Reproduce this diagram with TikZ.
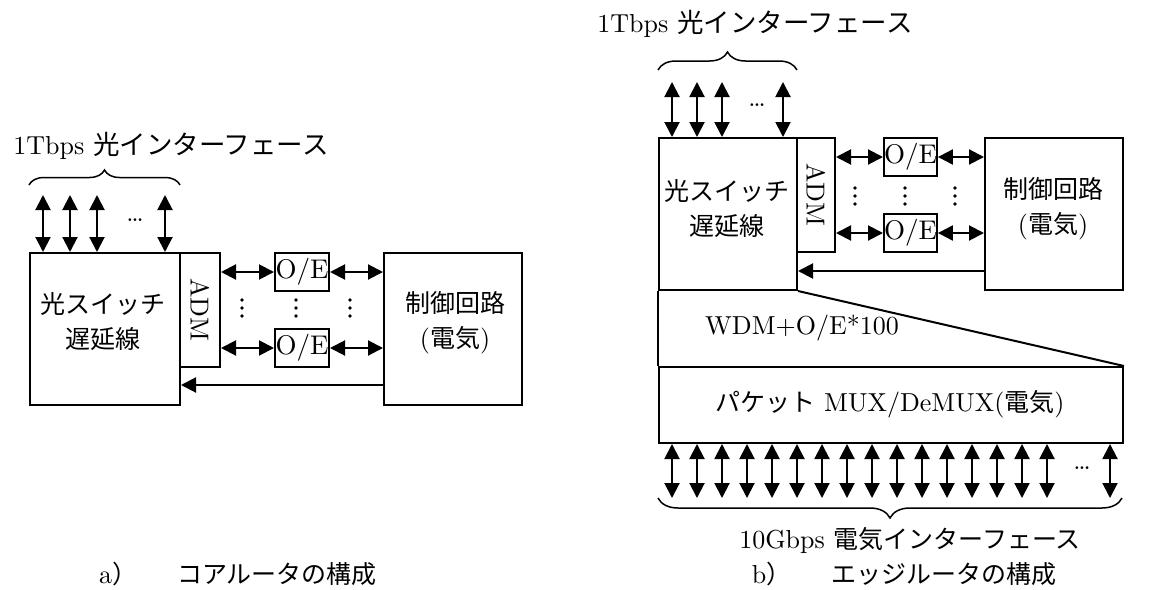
\documentclass[tikz,border=0pt]{standalone}
\usepackage{fontspec}
\setmainfont{lmroman10-regular.otf}
\newfontfamily\cjk{Noto Sans CJK JP}
\newcommand\JP[1]{{\cjk\fontsize{25}{30}\selectfont #1}}
\newcommand\JL[1]{{\cjk\fontsize{26.5}{30}\selectfont #1}}
\usetikzlibrary{arrows.meta,decorations.pathreplacing,calc}
\begin{document}
\begin{tikzpicture}[x=1pt,y=-1pt,
  every node/.style={inner sep=0pt, font=\fontsize{26}{32}\selectfont},
  blk/.style={draw, line width=2pt, anchor=north west, align=center},
  boxjp/.style={font=\fontsize{25}{35}\selectfont\cjk},
  dbl/.style={{Triangle[length=15pt,width=15pt]}-{Triangle[length=15pt,width=15pt]}, line width=2pt},
  sgl/.style={-{Triangle[length=15pt,width=15pt]}, line width=2pt},
  brc/.style={decorate, decoration={brace, amplitude=#1}, line width=1.5pt},
  brc/.default=16pt,
  oe/.style={blk, font=\fontsize{27}{30}\selectfont}
]
\useasboundingbox (0,0) rectangle (1166,589);

% vertical dots
\newcommand\vdotsat[1]{\fill #1 ++(0,-8) circle (1.8pt) #1 circle (1.8pt) #1 ++(0,8) circle (1.8pt);}

% ===================== a) core router =====================
\node[blk, minimum width=150pt, minimum height=152pt] (mainA) at (29,252) {};
\node[boxjp, align=center] (mainAt) at (103,322) {光スイッチ\\遅延線};
\node[blk, minimum width=40pt, minimum height=114pt] (admA) at (179,252) {};
\node[rotate=-90] (admAt) at (admA.center) {ADM};
\node[oe, minimum width=54pt, minimum height=38pt] (oeA1) at (274,252) {O/E};
\node[oe, minimum width=54pt, minimum height=38pt] (oeA2) at (274,328) {O/E};
\node[blk, minimum width=138pt, minimum height=152pt] (ctlA) at (383,252) {};
\node[align=center] (ctlAt) at (455,323) {\JP{制御回路}\\[3pt](\JP{電気})};

\draw[dbl] (admA.east |- oeA1.west) -- (oeA1.west);
\draw[dbl] (oeA1.east) -- (ctlA.west |- oeA1.east);
\draw[dbl] (admA.east |- oeA2.west) -- (oeA2.west);
\draw[dbl] (oeA2.east) -- (ctlA.west |- oeA2.east);
\vdotsat{(242,308)}
\vdotsat{(296,308)}
\vdotsat{(350,308)}

\coordinate (fbA) at (300,385);
\draw[sgl] (ctlA.west |- fbA) -- (mainA.east |- fbA);

\foreach \x in {43,70,97,165} \draw[dbl] (\x,195) -- (\x,0 |- mainA.north);
\node (cdA) at (135,220) {\dots};
\draw[brc=15pt] (29,185) -- (180,185);
\node (labA) at (171,146) {1Tbps \JL{光インターフェース}};

\node (capA) at (238,574) {a\JP{）\hspace{1.6em}コアルータの構成}};

% ===================== b) edge router =====================
\node[blk, minimum width=138pt, minimum height=152pt] (mainB) at (658,137) {};
\node[boxjp, align=center] (mainBt) at (727,209) {光スイッチ\\遅延線};
\node[blk, minimum width=38pt, minimum height=114pt] (admB) at (796,137) {};
\node[rotate=-90] (admBt) at (admB.center) {ADM};
\node[oe, minimum width=51pt, minimum height=38pt] (oeB1) at (883,137) {O/E};
\node[oe, minimum width=51pt, minimum height=38pt] (oeB2) at (883,213) {O/E};
\node[blk, minimum width=138pt, minimum height=152pt] (ctlB) at (984,137) {};
\node[align=center] (ctlBt) at (1053,209) {\JP{制御回路}\\[3pt](\JP{電気})};

\draw[dbl] (admB.east |- oeB1.west) -- (oeB1.west);
\draw[dbl] (oeB1.east) -- (ctlB.west |- oeB1.east);
\draw[dbl] (admB.east |- oeB2.west) -- (oeB2.west);
\draw[dbl] (oeB2.east) -- (ctlB.west |- oeB2.east);
\vdotsat{(855,196)}
\vdotsat{(905,196)}
\vdotsat{(955,196)}

\coordinate (fbB) at (900,271);
\draw[sgl] (ctlB.west |- fbB) -- (mainB.east |- fbB);

\foreach \x in {672,697,722,783} \draw[dbl] (\x,82) -- (\x,0 |- mainB.north);
\node (cdB) at (757,105) {\dots};
\draw[brc=18pt] (658,70) -- (797,70);
\node (labB) at (755,24) {1Tbps \JL{光インターフェース}};

% WDM + packet mux
\node[blk, minimum width=464pt, minimum height=76pt] (pkt) at (658,366) {};
\node (pktt) at (890,404) {\JP{パケット} MUX/DeMUX(\JP{電気})};
\draw[line width=2pt] (mainB.south west) -- (pkt.north west);
\draw[line width=2pt] (mainB.south east) -- (pkt.north east);
\node (wdm) at (802,328) {WDM+O/E*100};

\foreach \x in {672,697,722,747,772,797,822,847,872,897,922,947,972,997,1022,1047,1110}
  \draw[dbl] (\x,0 |- pkt.south) -- (\x,498);
\node (cdP) at (1082,468) {\dots};
\draw[brc=20pt] (1122,498) -- (658,498);
\node (labP) at (910,540) {10Gbps \JP{電気インターフェース}};

\node (capB) at (904,574) {b\JP{）\hspace{1.6em}エッジルータの構成}};
\end{tikzpicture}
\end{document}
